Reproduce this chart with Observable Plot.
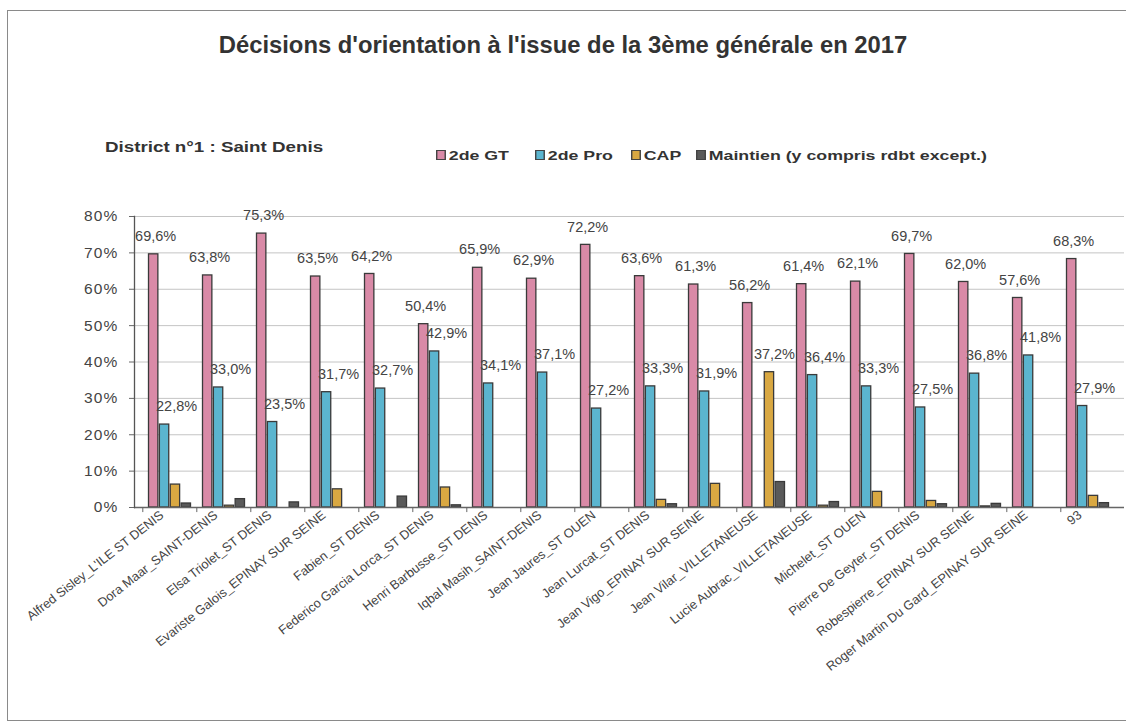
<!DOCTYPE html>
<html><head><meta charset="utf-8">
<script src="https://cdn.jsdelivr.net/npm/d3@7"></script>
<script src="https://cdn.jsdelivr.net/npm/@observablehq/plot@0.6"></script>
<style>
html,body{margin:0;padding:0;background:#fff;overflow:hidden;width:1126px;height:725px;font-family:"Liberation Sans",Arial,sans-serif;}
#frame{position:absolute;left:7px;top:10px;width:1400px;height:709px;border-left:1.5px solid #8a8a8a;border-top:1.5px solid #8a8a8a;border-bottom:1.5px solid #8a8a8a;border-right:none;}
#title{position:absolute;left:0;width:1126px;top:31px;text-align:center;font-weight:bold;font-size:23.8px;color:#333;}
#district{position:absolute;left:105px;top:139px;font-weight:bold;font-size:14px;color:#333;transform:scaleX(1.34);transform-origin:left center;white-space:nowrap;}
.leg{position:absolute;top:149px;font-weight:bold;font-size:12.5px;color:#333;white-space:nowrap;transform:scaleX(1.42);transform-origin:left center;}
.leg span.sw{display:inline-block;width:5px;height:8px;border:1px solid #444;margin-right:2px;vertical-align:0px;}
#chart{position:absolute;left:0;top:195px;}
</style></head>
<body>
<div id="frame"></div>
<div id="title">Décisions d'orientation à l'issue de la 3ème générale en 2017</div>
<div id="district">District n°1 : Saint Denis</div>
<div id="legend"></div>
<div id="chart"></div>
<script>
const schools = [
  "Alfred Sisley_L'ILE ST DENIS","Dora Maar_SAINT-DENIS","Elsa Triolet_ST DENIS",
  "Evariste Galois_EPINAY SUR SEINE","Fabien_ST DENIS","Federico Garcia Lorca_ST DENIS",
  "Henri Barbusse_ST DENIS","Iqbal Masih_SAINT-DENIS","Jean Jaures_ST OUEN",
  "Jean Lurcat_ST DENIS","Jean Vigo_EPINAY SUR SEINE","Jean Vilar_VILLETANEUSE",
  "Lucie Aubrac_VILLETANEUSE","Michelet_ST OUEN","Pierre De Geyter_ST DENIS",
  "Robespierre_EPINAY SUR SEINE","Roger Martin Du Gard_EPINAY SUR SEINE","93"
];
const seriesNames = ["2de GT","2de Pro","CAP","Maintien (y compris rdbt except.)"];
const gt       = [69.6,63.8,75.3,63.5,64.2,50.4,65.9,62.9,72.2,63.6,61.3,56.2,61.4,62.1,69.7,62.0,57.6,68.3];
const pro      = [22.8,33.0,23.5,31.7,32.7,42.9,34.1,37.1,27.2,33.3,31.9,0,36.4,33.3,27.5,36.8,41.8,27.9];
const cap      = [6.3,0.5,0,5.0,0,5.5,0,0,0,2.1,6.5,37.2,0.5,4.3,1.8,0.3,0,3.2];
const maintien = [1.1,2.3,1.4,0,3.0,0.6,0,0,0,0.9,0,7.0,1.5,0,0.9,1.0,0,1.2];
const yTicks = [0,10,20,30,40,50,60,70,80];
const colors = ["#d98aa7","#5bb5cf","#d9a842","#5a5a5a"];
const legendLeft = [436,535,631,696];

const rows = schools.map((s,i)=>({school:s, v:[gt[i],pro[i],cap[i],maintien[i]]}));
const fmt = v => v.toFixed(1).replace(".", ",") + "%";

// legend
document.getElementById("legend").innerHTML = seriesNames.map((n,i)=>
  `<div class="leg" style="left:${legendLeft[i]}px"><span class="sw" style="background:${colors[i]}"></span>${n}</div>`).join("");

const W = 1126, ML = 134, MR = 2, pad = 0.2;
const step = (W-ML-MR)/(schools.length - pad + 2*pad);
const bw = step*(1-pad);
const w = bw/4;

const marks = [
  Plot.ruleY(yTicks.filter(t=>t>0), {stroke:"#c4c4c4", strokeWidth:1}),
];
for (let k=0;k<4;k++){
  marks.push(Plot.barY(rows.filter(r=>r.v[k]>0), {
    x:"school", y: r=>r.v[k], fill: colors[k], stroke:"#3a3a3a", strokeWidth:1.3,
    insetLeft: k*w+0.5, insetRight: (3-k)*w+0.5
  }));
}
marks.push(
  Plot.ruleY([0], {stroke:"#666", strokeWidth:1.3}),
  Plot.ruleX(schools, {x: d=>d, y1:0, y2:-1.4, dx: -step/2, stroke:"#666"}),
  Plot.text(rows, {x:"school", y: r=>r.v[0], text: r=>fmt(r.v[0]), dx: -bw/2 + w/2 + 2, dy: -18, fontSize: 14.5, fill:"#444"}),
  Plot.text(rows.filter(r=>r.v[1]>0), {x:"school", y: r=>r.v[1], text: r=>fmt(r.v[1]), dx: -bw/2 + 1.5*w + 12, dy: -18, fontSize: 14.5, fill:"#444"}),
  Plot.text(rows.filter(r=>r.v[2]>10), {x:"school", y: r=>r.v[2], text: r=>fmt(r.v[2]), dx: -bw/2 + 2.5*w + 5, dy: -18, fontSize: 14.5, fill:"#444"}),
  Plot.axisX({tickRotate:-38, tickSize:0, tickPadding:6, dx:-8, fontSize:12.8, fill:"#444"}),
  Plot.axisY({ticks: yTicks, tickFormat: d=>d+"%", tickSize:5, tickPadding:11, fontSize:15.5, fill:"#444", stroke:"#666"}),
  Plot.frame({anchor:"left", stroke:"#555", strokeWidth:1.3})
);

const chart = Plot.plot({
  width: W, height: 525,
  marginLeft: ML, marginRight: MR, marginTop: 21, marginBottom: 213,
  style: {fontFamily:'"Liberation Sans", Arial, sans-serif', color:"#444", background:"transparent"},
  x: {domain: schools, padding: pad, label: null},
  y: {domain: [0,80], label: null},
  marks
});
d3.select(chart).selectAll("g[aria-label='y-axis tick label'] text").style("letter-spacing","1.2px");
document.getElementById("chart").appendChild(chart);
</script>
</body></html>
